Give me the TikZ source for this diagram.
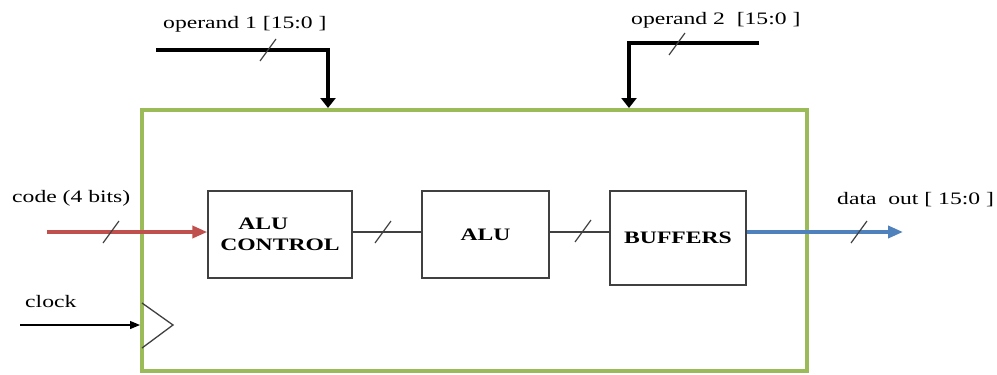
\documentclass[tikz,border=0pt]{standalone}
\usepackage{fontspec}
\setmainfont{Liberation Serif}[FakeStretch=1.35]
\usetikzlibrary{arrows.meta,calc}
\definecolor{framegreen}{RGB}{155,187,89}
\definecolor{codered}{RGB}{192,80,77}
\definecolor{outblue}{RGB}{79,129,189}
\definecolor{boxgray}{RGB}{64,64,64}
\tikzset{
  lbl/.style={font=\fontsize{17.5}{21}\selectfont, inner sep=0pt, anchor=base west},
  unit/.style={draw=boxgray, line width=1.4pt, font=\fontsize{17.5}{21}\selectfont\bfseries, inner sep=0pt},
  wire/.style={draw=boxgray, line width=1.3pt},
  operandbus/.style={draw=black, line width=3.6pt, -{Triangle[length=10pt,width=15pt]}},
  busslash/.pic={\draw[draw=boxgray, line width=1.2pt] (-8,11) -- (8,-11);}
}
\begin{document}
\begin{tikzpicture}[x=1pt,y=-1pt]
\useasboundingbox (0,0) rectangle (997,375);

% enclosing block
\node[draw=framegreen, line width=4pt, minimum width=665pt, minimum height=261pt, inner sep=0pt] (frame) at (474.5,240.5) {};

% internal units
\node[unit, minimum width=144pt, minimum height=87pt, align=left] (ctrl) at (280,234.5) {\hspace*{18pt}ALU\\CONTROL};
\node[unit, minimum width=127pt, minimum height=87pt] (alu) at (485.5,234.5) {ALU};
\node[unit, minimum width=136pt, minimum height=94pt] (buf) at (678,238) {BUFFERS};

\coordinate (bus) at (0,232);

% internal data path
\draw[wire] (ctrl.east |- bus) -- (alu.west |- bus);
\draw[wire] (alu.east |- bus) -- (buf.west |- bus);
\pic at (383,232) {busslash};
\pic at (583,231) {busslash};

% operand inputs
\coordinate (op1in) at (156,50);
\coordinate (op1turn) at (328,50);
\draw[operandbus] (op1in) -- (op1turn) -- (op1turn |- frame.north);
\pic at (268,50) {busslash};
\node[lbl] (op1lbl) at (163,28) {operand 1 [15:0 ]};

\coordinate (op2in) at (759,43);
\coordinate (op2turn) at (629,43);
\draw[operandbus] (op2in) -- (op2turn) -- (op2turn |- frame.north);
\pic at (677,44) {busslash};
\node[lbl] (op2lbl) at (631,24) {operand 2~ [15:0 ]};

% opcode input
\coordinate (codein) at (47,232);
\draw[draw=codered, line width=3.6pt, -{Triangle[length=15pt,width=12pt]}] (codein) -- (ctrl.west |- bus);
\pic at (111,232) {busslash};
\node[lbl] (codelbl) at (12,202) {code (4 bits)};

% data output
\coordinate (dataout) at (903,232);
\draw[draw=outblue, line width=3.6pt, -{Triangle[length=15pt,width=12pt]}] (buf.east |- bus) -- (dataout);
\pic at (859,232) {busslash};
\node[lbl] (datalbl) at (837,204) {data~ out [ 15:0 ]};

% clock input with edge marker
\coordinate (clkin) at (20,325);
\draw[black, line width=1.2pt, -{Triangle[length=10pt,width=8pt]}] (clkin) -- (frame.west |- clkin);
\draw[wire] (142,303) -- (173,325) -- (142,348);
\node[lbl] (clklbl) at (25,307) {clock};
\end{tikzpicture}
\end{document}
